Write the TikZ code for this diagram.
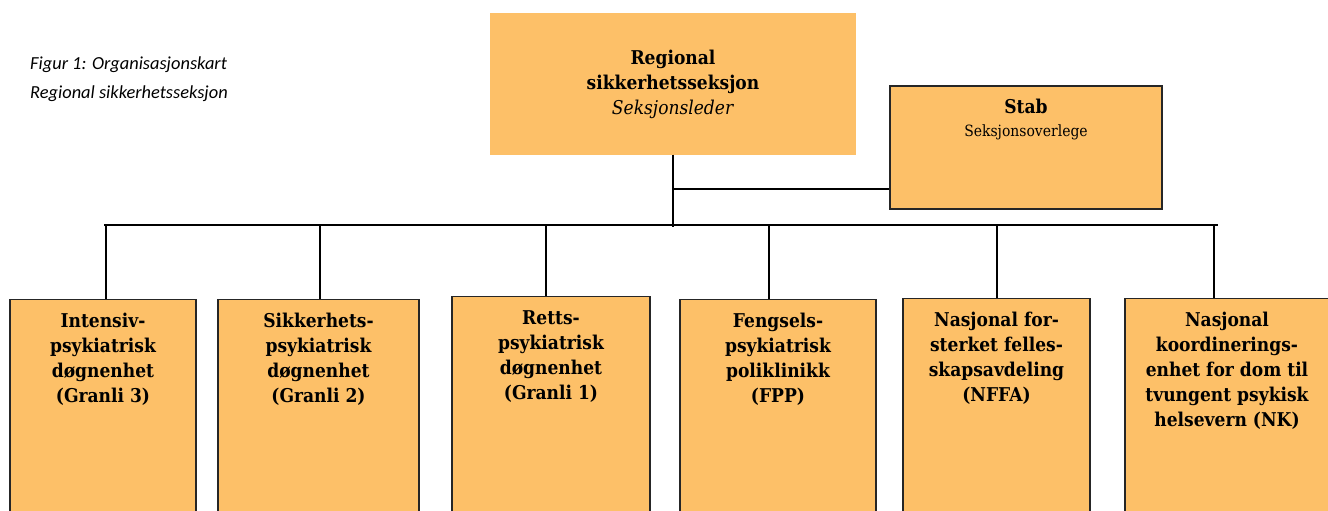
\documentclass[tikz,border=0pt]{standalone}
\usepackage{fontspec}
\setmainfont[FakeStretch=0.9]{DejaVu Serif}
\newfontfamily\capfont{Carlito}
\usetikzlibrary{calc}
\definecolor{unitfill}{RGB}{253,192,104}
\begin{document}
\begin{tikzpicture}[x=1pt,y=-1pt]

  \tikzstyle{topnode}=[rectangle,fill=unitfill,minimum width=366pt,minimum height=141pt,inner sep=0pt,align=center,font=\fontsize{19}{25}\selectfont]
  \tikzstyle{stabnode}=[draw=black!85,line width=1.2pt,rectangle,fill=unitfill,minimum width=272pt,minimum height=123pt,inner sep=0pt]
  \tikzstyle{unitnode}=[draw=black!85,line width=1.2pt,rectangle,fill=unitfill,anchor=north,minimum height=240pt,inner sep=0pt]
  \tikzstyle{unitlab}=[anchor=north,yshift=-14pt,inner sep=0pt,align=center,font=\fontsize{19}{25}\selectfont\bfseries]
  \tikzstyle{stablab}=[anchor=north,yshift=-13pt,inner sep=0pt,align=center,font=\fontsize{19}{23}\selectfont]
  \tikzstyle{conn}=[draw,line width=1.6pt]

  \useasboundingbox (0,0) rectangle (1328,511);
  \clip (0,0) rectangle (1328,511);

  % caption
  \node[anchor=base west,align=left,inner sep=0pt,font=\capfont\itshape\fontsize{18.4}{29}\selectfont] (caption) at (30,99) {Figur 1: Organisasjonskart\\Regional sikkerhetsseksjon};

  % nodes
  \node[topnode] (top) at (673,84) {\textbf{Regional}\\\textbf{sikkerhetsseksjon}\\\textit{Seksjonsleder}};
  \node[stabnode,label={[stablab]north:{\textbf{Stab}\\{\fontsize{15.5}{23}\selectfont Seksjonsoverlege}}}] (stab) at (1026,147.5) {};

  \node[unitnode,minimum width=186pt,label={[unitlab]north:{Intensiv-\\psykiatrisk\\døgnenhet\\(Granli 3)}}] (u1) at (103,299) {};
  \node[unitnode,minimum width=201pt,label={[unitlab]north:{Sikkerhets-\\psykiatrisk\\døgnenhet\\(Granli 2)}}] (u2) at (318.5,299) {};
  \node[unitnode,minimum width=198pt,label={[unitlab]north:{Retts-\\psykiatrisk\\døgnenhet\\(Granli 1)}}] (u3) at (551,296) {};
  \node[unitnode,minimum width=196pt,label={[unitlab]north:{Fengsels-\\psykiatrisk\\poliklinikk\\(FPP)}}] (u4) at (778,299) {};
  \node[unitnode,minimum width=187pt,label={[unitlab]north:{Nasjonal for-\\sterket felles-\\skapsavdeling\\(NFFA)}}] (u5) at (996.5,298) {};
  \node[unitnode,minimum width=204pt,label={[unitlab]north:{Nasjonal\\koordinerings-\\enhet for dom til\\tvungent psykisk\\helsevern (NK)}}] (u6) at (1227,298) {};

  % connectors
  \coordinate (barL) at (104,225);
  \coordinate (barR) at (1218,225);
  \coordinate (stabjoin) at (672,189);
  \coordinate (d1) at (106,225);
  \coordinate (d2) at (320,225);
  \coordinate (d3) at (546,225);
  \coordinate (d4) at (769,225);
  \coordinate (d5) at (997,225);
  \coordinate (d6) at (1214,225);

  \draw[conn] (barL) -- (barR);
  \draw[conn] (top.south) -- ([yshift=-2pt]top.south |- barL);
  \draw[conn] (stabjoin) -- (stabjoin -| stab.west);

  \draw[conn] (d1) -- (d1 |- u1.north);
  \draw[conn] (d2) -- (d2 |- u2.north);
  \draw[conn] (d3) -- (d3 |- u3.north);
  \draw[conn] (d4) -- (d4 |- u4.north);
  \draw[conn] (d5) -- (d5 |- u5.north);
  \draw[conn] (d6) -- (d6 |- u6.north);

\end{tikzpicture}
\end{document}
